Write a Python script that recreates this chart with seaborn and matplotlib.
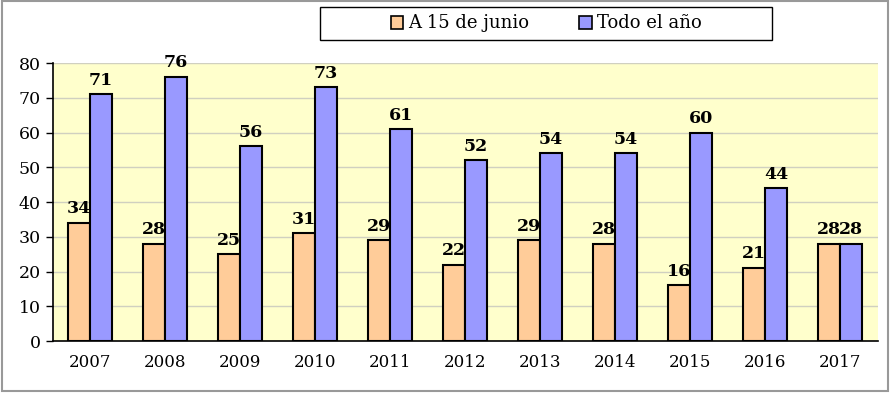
import numpy as np
import pandas as pd
import matplotlib.pyplot as plt
import matplotlib.patches as mpatches
import seaborn as sns

# data
years = ["2007", "2008", "2009", "2010", "2011", "2012", "2013", "2014", "2015", "2016", "2017"]
junio = [34, 28, 25, 31, 29, 22, 29, 28, 16, 21, 28]
todo = [71, 76, 56, 73, 61, 52, 54, 54, 60, 44, 28]
series = ["A 15 de junio", "Todo el año"]
colors = ["#FFCC99", "#9999FF"]

df = pd.DataFrame({
    "year": years * 2,
    "value": junio + todo,
    "serie": [series[0]] * len(years) + [series[1]] * len(years),
})

sns.set_style("white")
plt.rcParams["font.family"] = ["DejaVu Serif"]
plt.rcParams["text.color"] = "black"
plt.rcParams["xtick.color"] = "black"
plt.rcParams["ytick.color"] = "black"

fig = plt.figure(figsize=(8.92, 3.94), dpi=100)
ax = fig.add_axes([0.059, 0.1345, 0.925, 0.7055])

sns.barplot(data=df, x="year", y="value", hue="serie", palette=colors,
            width=0.587, edgecolor="black", linewidth=1.5, gap=0,
            saturation=1, legend=False, ax=ax)

for cont in ax.containers:
    ax.bar_label(cont, padding=4, fontsize=12.5, fontweight="bold", color="black")

ax.set_facecolor("#FFFFCC")
ax.set_ylim(0, 80)
ax.set_xlim(-0.5, len(years) - 0.5)
ax.set_yticks(np.arange(0, 81, 10))
ax.yaxis.grid(True, color="#D0D0C0", linewidth=1)
ax.set_axisbelow(True)
ax.set_xlabel("")
ax.set_ylabel("")

for s in ["top", "right"]:
    ax.spines[s].set_visible(False)
for s in ["left", "bottom"]:
    ax.spines[s].set_color("black")
    ax.spines[s].set_linewidth(1.2)

ax.set_xticks(np.arange(-0.5, len(years), 1), minor=True)
ax.tick_params(axis="x", which="major", length=0, labelsize=12, pad=9)
ax.tick_params(axis="x", which="minor", length=5, width=1, direction="out", color="black")
ax.tick_params(axis="y", length=5, width=1, direction="out", color="black", labelsize=12.5, left=True)

# legend box
fig.patches.append(mpatches.Rectangle((320 / 892, 1 - 40 / 394), 452 / 892, 33 / 394,
                                      transform=fig.transFigure, facecolor="white",
                                      edgecolor="black", linewidth=1))
handles = [mpatches.Patch(facecolor=c, edgecolor="black", linewidth=1.2, label=l)
           for c, l in zip(colors, series)]
fig.legend(handles=handles, loc="center", bbox_to_anchor=(546 / 892, 1 - 23.5 / 394),
           ncol=2, frameon=False, fontsize=13, handlelength=0.7, handleheight=0.7,
           handletextpad=0.25, columnspacing=2.8)

# outer frame
fig.patches.append(mpatches.Rectangle((0.002, 0.008), 0.994, 0.99, transform=fig.transFigure,
                                      fill=False, edgecolor="#999999", linewidth=1.5))

plt.savefig("out.png", dpi=100)
